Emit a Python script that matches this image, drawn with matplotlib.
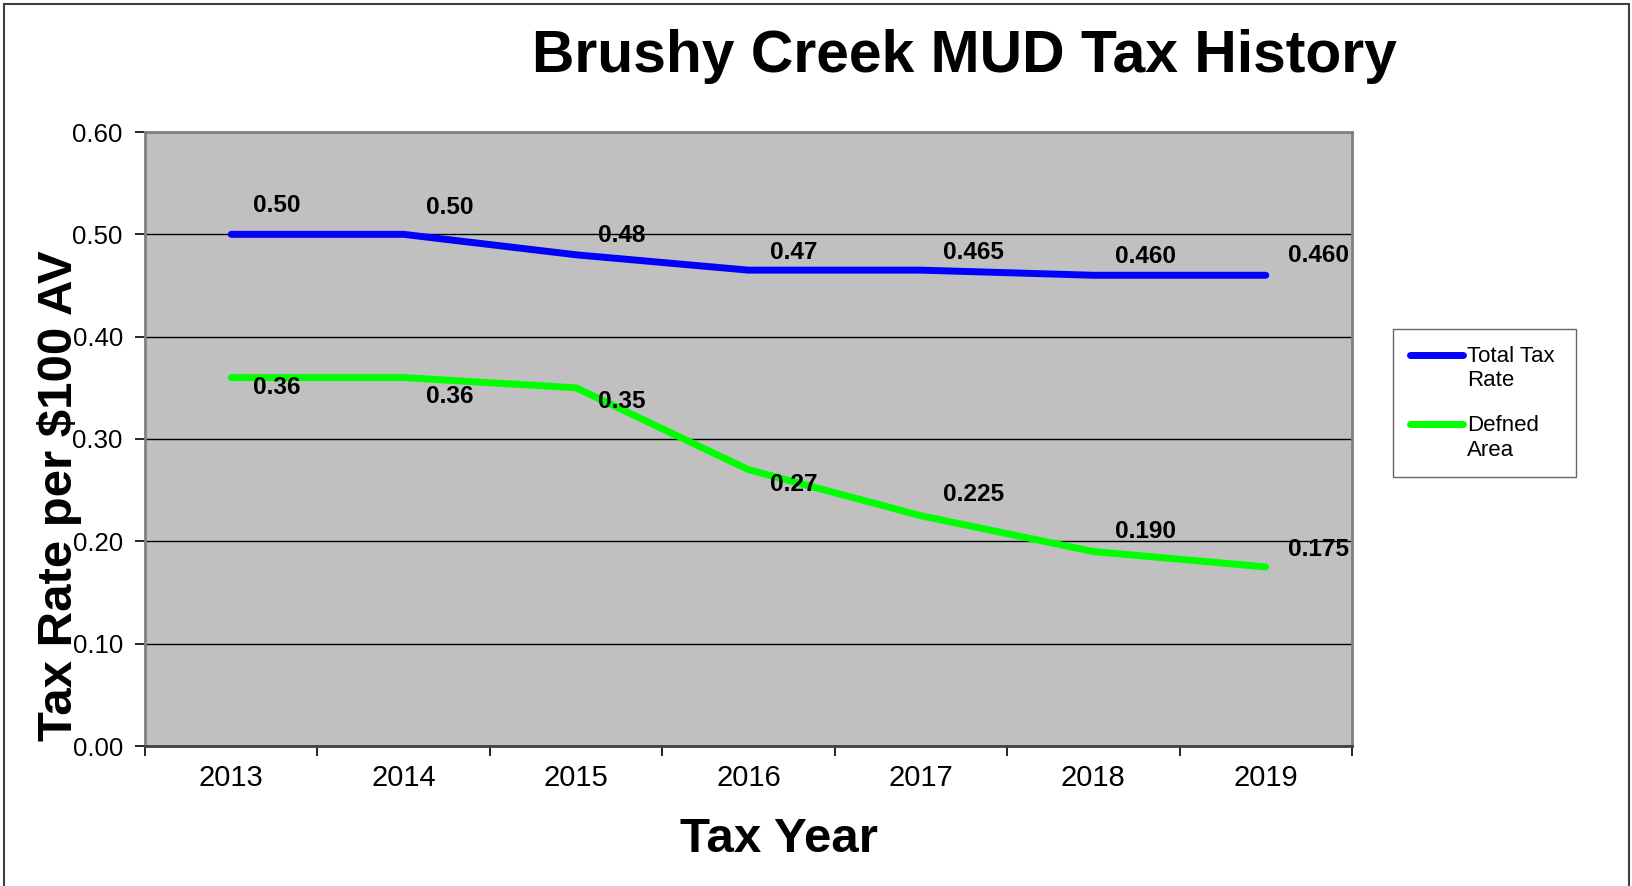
import matplotlib
matplotlib.use("Agg")
import matplotlib.pyplot as plt
from matplotlib.patches import Rectangle
from matplotlib.legend_handler import HandlerLine2D

plt.rcParams['font.family'] = ['Liberation Sans', 'DejaVu Sans']

years = ['2013', '2014', '2015', '2016', '2017', '2018', '2019']
total_rate = [0.50, 0.50, 0.48, 0.465, 0.465, 0.460, 0.460]
defined_area = [0.36, 0.36, 0.35, 0.27, 0.225, 0.19, 0.175]
total_labels = ['0.50', '0.50', '0.48', '0.47', '0.465', '0.460', '0.460']
defined_labels = ['0.36', '0.36', '0.35', '0.27', '0.225', '0.190', '0.175']

# vertical offsets of the value labels, in pixels
total_dy = [29, 27, 19, 18, 18, 19, 20]
defined_dy = [-10, -19, -14, -15, 21, 20, 17]


class FirstLineHandler(HandlerLine2D):
    # put the legend line next to the first line of a two-line label
    def create_artists(self, legend, orig_handle, xdescent, ydescent, width,
                       height, fontsize, trans):
        arts = super().create_artists(legend, orig_handle, xdescent, ydescent,
                                      width, height, fontsize, trans)
        for a in arts:
            a.set_ydata([y + fontsize * 0.62 for y in a.get_ydata()])
        return arts


fig = plt.figure(figsize=(16.33, 8.86), dpi=100)
fig.patches.append(Rectangle((4 / 1633, -0.1), 1625 / 1633, 1.1 - 4 / 886,
                             transform=fig.transFigure, fill=False,
                             edgecolor='#404040', linewidth=1.5))

ax = fig.add_axes([145 / 1633, 1 - 746 / 886, 1207 / 1633, 614 / 886])
ax.set_facecolor('#C0C0C0')

x = range(len(years))
ax.plot(x, total_rate, color='#0000FF', linewidth=5, solid_capstyle='round',
        solid_joinstyle='round', label='Total Tax\nRate', zorder=3)
ax.plot(x, defined_area, color='#00FF00', linewidth=5, solid_capstyle='round',
        solid_joinstyle='round', label='Defned\nArea', zorder=3)

for i in x:
    ax.annotate(total_labels[i], (i, total_rate[i]), xytext=(22, total_dy[i]),
                textcoords='offset pixels', ha='left', va='center',
                fontsize=17.6, fontweight='bold', zorder=4)
    ax.annotate(defined_labels[i], (i, defined_area[i]), xytext=(22, defined_dy[i]),
                textcoords='offset pixels', ha='left', va='center',
                fontsize=17.6, fontweight='bold', zorder=4)

ax.set_xlim(-0.5, len(years) - 0.5)
ax.set_ylim(0, 0.6)
ax.set_yticks([0, 0.1, 0.2, 0.3, 0.4, 0.5, 0.6])
ax.set_yticklabels(['%.2f' % v for v in ax.get_yticks()])
ax.set_xticks([i - 0.5 for i in range(len(years) + 1)])
ax.set_xticklabels([])
ax.set_xticks(list(x), minor=True)
ax.set_xticklabels(years, minor=True)
ax.tick_params(axis='x', which='major', length=7, width=1.2, color='black', direction='out')
ax.tick_params(axis='x', which='minor', length=0, labelsize=21, pad=13)
ax.tick_params(axis='y', length=7, width=1.2, color='black', direction='out',
               labelsize=18.6, pad=9)

ax.yaxis.grid(True, color='black', linewidth=1)
ax.set_axisbelow(True)
for s in ax.spines.values():
    s.set_color('#808080')
    s.set_linewidth(2)
ax.spines['bottom'].set_color('#404040')

fig.text(964 / 1633, 1 - 56 / 886, 'Brushy Creek MUD Tax History', ha='center',
         va='center', fontsize=42.4, fontweight='bold')
fig.text(779 / 1633, 1 - 839 / 886, 'Tax Year', ha='center', va='center',
         fontsize=35.5, fontweight='bold')
fig.text(60 / 1633, 1 - 496 / 886, 'Tax Rate per $100 AV', ha='center', va='center',
         rotation=90, fontsize=35.4, fontweight='bold')

leg = fig.legend(loc='upper left', mode='expand',
                 bbox_to_anchor=(1393 / 1633, 1 - 471 / 886, 183 / 1633, 142 / 886),
                 fontsize=16, frameon=True, fancybox=False, handlelength=2.4,
                 handletextpad=0.2, labelspacing=1.1, borderpad=0.75,
                 borderaxespad=0,
                 handler_map={ax.lines[0]: FirstLineHandler(),
                              ax.lines[1]: FirstLineHandler()})
for t in leg.get_texts():
    t.set_linespacing(1.2)
leg.get_frame().set_edgecolor('#404040')
leg.get_frame().set_linewidth(1)

fig.savefig('out.png', dpi=100)
